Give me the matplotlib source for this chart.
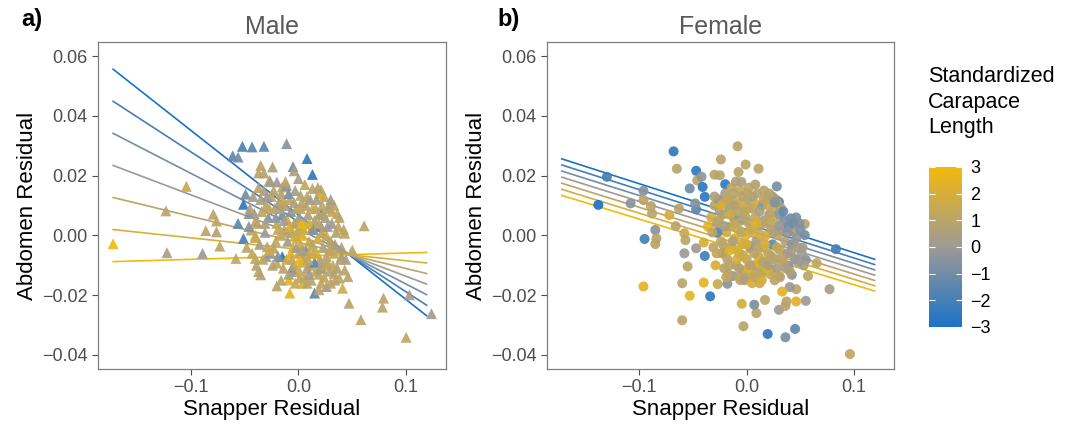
import numpy as np
import matplotlib
matplotlib.use("Agg")
import matplotlib.pyplot as plt
from matplotlib.colors import LinearSegmentedColormap, Normalize
from matplotlib.cm import ScalarMappable

plt.rcParams['font.family'] = ['Liberation Sans', 'DejaVu Sans']

# points: (snapper residual, abdomen residual, standardized CL)
male_points = [
    (-0.172, -0.0028, 3.0), (-0.104, 0.0164, 1.5), (-0.123, 0.0082, 1.0),
    (-0.122, -0.0058, 0.5), (-0.089, -0.0060, 0.0), (-0.086, 0.0016, 1.0),
    (-0.079, 0.0071, 1.0), (-0.076, 0.0048, 1.2), (-0.076, 0.0012, 0.8),
    (-0.073, -0.0036, 1.0), (-0.058, -0.0077, 1.2), (-0.061, 0.0266, -1.5),
    (-0.056, 0.0262, -1.0), (-0.052, 0.0298, -2.0), (-0.043, 0.0296, -1.5),
    (-0.032, 0.0298, -1.5), (-0.011, 0.0307, -0.5), (0.008, 0.0257, -2.5),
    (0.013, 0.0204, -2.5), (-0.005, 0.0230, -1.0), (-0.004, 0.0216, 0.5),
    (-0.035, 0.0234, 1.0), (-0.024, 0.0229, 0.5), (-0.037, 0.0209, 1.0),
    (-0.032, 0.0209, 0.8), (-0.027, 0.0184, 1.0), (-0.020, 0.0179, 0.0),
    (-0.015, 0.0162, 1.0), (-0.011, 0.0167, -0.3), (-0.049, 0.0138, -1.0),
    (-0.051, 0.0104, -2.5), (-0.056, 0.0040, -1.5), (-0.051, -0.0010, -2.0),
    (-0.046, 0.0073, -0.5), (-0.041, 0.0073, 0.0), (-0.040, 0.0046, 1.0),
    (-0.044, 0.0018, 1.2), (-0.040, -0.0007, 1.0), (-0.040, -0.0077, 1.2),
    (-0.037, -0.0121, 1.0), (-0.035, -0.0132, 0.8), (-0.030, -0.0071, 0.0),
    (-0.029, -0.0038, 1.0), (-0.026, -0.0060, -0.2), (-0.023, -0.0043, 1.0),
    (-0.020, -0.0093, 1.2), (-0.020, -0.0169, 1.0), (-0.015, -0.0071, -2.5),
    (-0.009, -0.0149, 2.5), (-0.008, -0.0193, 2.5), (-0.006, -0.0110, -2.0),
    (-0.004, -0.0121, 0.0), (0.001, -0.0143, 1.0), (0.004, -0.0160, 2.2),
    (0.008, -0.0160, 1.0), (0.015, -0.0193, -1.5), (0.019, -0.0182, 1.0),
    (0.026, -0.0171, 0.0), (0.030, -0.0160, 1.0), (0.033, -0.0127, 1.0),
    (0.038, -0.0143, 1.0), (0.041, -0.0177, 1.8), (0.043, -0.0116, 1.0),
    (0.046, -0.0138, 1.0), (0.047, -0.0227, 1.0), (0.050, -0.0049, 1.0),
    (0.061, 0.0032, 1.0), (0.058, -0.0282, 1.0), (0.079, -0.0210, 1.0),
    (0.078, -0.0240, 1.0), (0.100, -0.0341, 1.2), (0.103, -0.0199, 0.3),
    (0.1235, -0.0262, 0.2), (0.040, -0.0071, 0.0), (0.043, 0.0007, 1.0),
    (0.036, 0.0073, 1.0), (0.033, 0.0101, 1.0), (0.029, 0.0107, 1.0),
    (0.021, 0.0153, 1.0), (0.019, 0.0140, 2.0), (0.013, 0.0157, 1.0),
    (0.002, 0.0134, 1.0), (0.021, 0.0073, -2.0),
    # dense centre
    (-0.035, 0.012, 0.5), (-0.030, 0.010, 1.0), (-0.028, 0.006, -0.5),
    (-0.025, 0.013, 1.2), (-0.022, 0.009, 0.8), (-0.020, 0.004, 1.5),
    (-0.018, 0.011, 0.0), (-0.016, 0.014, 0.8), (-0.015, 0.007, -1.0),
    (-0.013, 0.002, 1.0), (-0.012, 0.010, 0.5), (-0.010, 0.005, 1.8),
    (-0.010, -0.002, 0.2), (-0.008, 0.012, 1.0), (-0.007, 0.008, -0.5),
    (-0.006, 0.001, 1.3), (-0.005, -0.004, 2.0), (-0.004, 0.004, 0.7),
    (-0.003, 0.015, 0.3), (-0.002, 0.009, 1.1), (-0.001, -0.001, 2.2),
    (0.000, 0.002, 0.9), (0.000, -0.006, 1.0), (0.001, 0.006, -0.3),
    (0.002, -0.003, 1.6), (0.003, 0.011, 0.8), (0.004, 0.000, 2.4),
    (0.005, -0.008, 0.6), (0.006, 0.004, 1.2), (0.007, -0.005, -0.8),
    (0.008, 0.013, 1.0), (0.009, 0.007, 0.4), (0.010, -0.002, 1.4),
    (0.011, -0.010, 0.9), (0.012, 0.002, 0.0), (0.013, 0.009, 1.7),
    (0.014, -0.006, 1.1), (0.015, 0.005, 0.6), (0.016, -0.012, 1.3),
    (0.017, 0.012, 0.2), (0.018, -0.001, 1.9), (0.019, 0.007, 0.8),
    (0.020, -0.008, 0.5), (0.021, 0.003, -1.2), (0.022, 0.010, 1.0),
    (0.023, -0.004, 0.7), (0.024, -0.014, 1.2), (0.025, 0.006, 0.3),
    (0.026, 0.000, 1.5), (0.027, -0.009, 0.9), (0.028, 0.009, 0.6),
    (0.030, -0.002, 1.1), (0.031, 0.004, 0.0), (0.033, -0.006, 1.4),
    (0.035, 0.001, 0.8), (0.036, -0.011, 0.5), (0.038, 0.006, 1.0),
    (0.040, -0.004, 0.7), (0.042, 0.002, 1.2), (0.044, -0.008, 0.4),
    (-0.038, 0.004, 1.0), (-0.036, -0.003, 0.4), (-0.033, -0.008, 1.2),
    (-0.031, 0.001, 0.0), (-0.027, -0.005, 1.6), (-0.024, -0.010, 0.8),
    (-0.021, -0.002, 1.1), (-0.019, -0.007, -0.6), (-0.017, 0.000, 1.4),
    (-0.014, -0.011, 0.9), (-0.011, -0.008, 1.7), (-0.009, -0.013, 0.5),
    (-0.007, -0.006, 2.5), (-0.004, -0.010, 1.0), (-0.002, -0.004, 0.3),
    (0.001, -0.012, 1.5), (0.003, -0.009, 2.0), (0.006, -0.014, 1.1),
    (0.008, -0.011, 0.6), (0.010, -0.006, 1.8), (0.012, -0.015, 1.0),
    (0.015, -0.009, -1.5), (0.019, -0.013, 1.2), (0.022, -0.011, 0.4),
    (0.026, -0.007, 1.0), (0.029, -0.012, 0.8), (0.032, -0.010, 1.3),
    (-0.045, 0.009, 0.8), (-0.042, 0.013, 0.3), (-0.040, 0.000, 1.5),
    (-0.048, -0.004, 1.0), (-0.032, 0.015, 0.6), (-0.026, 0.018, 0.2),
    (-0.012, 0.018, 1.0), (0.000, 0.019, 0.5), (0.006, 0.017, 1.2),
    (0.018, 0.016, 0.8), (0.024, 0.013, 1.4), (0.030, 0.012, 0.3),
    (-0.034, 0.008, 1.1), (-0.031, 0.004, 0.6), (-0.029, 0.013, 0.0),
    (-0.027, 0.009, 1.4), (-0.023, 0.015, 0.9), (-0.021, 0.006, -0.4),
    (-0.019, 0.002, 1.2), (-0.017, 0.009, 0.7), (-0.014, 0.012, 1.5),
    (-0.013, 0.005, 0.3), (-0.011, 0.001, 1.0), (-0.009, 0.014, -0.8),
    (-0.008, 0.003, 2.0), (-0.006, -0.008, 1.2), (-0.004, 0.011, 0.6),
    (-0.003, 0.000, 1.6), (-0.001, 0.005, 1.0), (0.001, -0.008, 2.6),
    (0.002, 0.009, 1.3), (0.004, -0.005, 0.5), (0.005, 0.002, 1.8),
    (0.007, 0.010, 0.8), (0.009, -0.008, 1.1), (0.010, 0.004, 2.2),
    (0.011, 0.012, 0.4), (0.013, -0.003, 1.0), (0.014, 0.002, -0.6),
    (0.016, 0.009, 1.2), (0.017, -0.006, 2.0), (0.019, 0.004, 1.0),
    (0.020, -0.011, 0.3), (0.022, 0.001, 1.4), (0.023, 0.007, 0.9),
    (0.025, -0.010, 1.2), (0.027, 0.003, 0.0), (0.029, -0.005, 1.0),
    (0.031, 0.008, 1.2), (0.034, -0.003, 0.5), (0.037, 0.003, 1.0),
    (0.039, -0.008, 0.8), (-0.043, -0.006, 1.3), (-0.039, -0.010, 0.9),
    (-0.046, 0.003, -0.5), (-0.037, 0.016, 1.0), (-0.016, -0.015, 1.0),
    (-0.003, -0.016, 1.4), (0.010, -0.013, 0.2), (0.021, -0.016, 1.1),
    (0.034, -0.015, 1.0), (0.003, 0.004, 2.7),
]

female_points = [
    (-0.138, 0.0102, -3.0), (-0.130, 0.0196, -2.0), (-0.108, 0.0107, -0.5),
    (-0.096, 0.0149, -0.5), (-0.096, 0.0118, 1.0), (-0.089, 0.0098, 1.0),
    (-0.088, 0.0073, 1.0), (-0.085, 0.0018, -0.5), (-0.095, -0.0012, -2.0),
    (-0.084, -0.0010, 1.0), (-0.085, -0.0029, 1.0), (-0.096, -0.0171, 2.5),
    (-0.068, 0.0281, -2.5), (-0.065, 0.0223, 1.0), (-0.072, 0.0068, 2.0),
    (-0.066, 0.0031, 1.0), (-0.063, 0.0090, 1.0), (-0.058, 0.0007, 1.5),
    (-0.057, -0.0016, 1.0), (-0.058, -0.0060, 0.0), (-0.055, -0.0104, 1.0),
    (-0.060, -0.0160, 1.0), (-0.053, -0.0202, 2.5), (-0.060, -0.0284, 1.0),
    (-0.053, 0.0157, -1.0), (-0.047, 0.0216, -2.5), (-0.046, 0.0184, 1.0),
    (-0.042, 0.0196, -0.3), (-0.041, 0.0162, -2.5), (-0.039, 0.0129, -2.5),
    (-0.047, 0.0087, -1.5), (-0.048, 0.0107, -0.5), (-0.047, -0.0043, 0.0),
    (-0.039, -0.0069, -2.0), (-0.040, -0.0158, 2.5), (-0.034, -0.0204, -2.5),
    (-0.036, 0.0029, 2.5), (-0.040, -0.0024, 2.0), (-0.027, -0.0163, 1.5),
    (-0.023, -0.0060, 2.5), (-0.021, -0.0110, 1.0), (-0.018, -0.0162, -0.5),
    (-0.022, -0.0057, -2.5), (-0.020, 0.0171, -2.5), (-0.025, 0.0201, 1.0),
    (-0.024, 0.0254, 1.0), (-0.030, 0.0203, 1.0), (-0.0085, 0.0298, 1.0),
    (-0.001, 0.0237, 1.0), (-0.0076, 0.0212, 1.0), (-0.005, 0.0179, 0.5),
    (0.011, 0.0223, 1.0), (0.028, 0.0164, -0.8), (0.027, 0.0120, -0.5),
    (0.030, 0.0112, -1.5), (0.041, 0.0057, -1.0), (0.046, 0.0060, -0.8),
    (0.054, 0.0038, 1.0), (0.054, 0.0001, -1.0), (0.083, -0.0046, -2.0),
    (0.065, -0.0093, 1.2), (0.077, -0.0180, 0.3), (0.055, -0.0082, -0.5),
    (0.057, -0.0136, 1.0), (0.055, -0.0219, 0.0), (0.046, -0.0221, 2.3),
    (0.046, -0.0180, 1.0), (0.040, -0.0173, 0.0), (0.037, -0.0221, 1.0),
    (0.033, -0.0188, 2.3), (0.030, -0.0249, 0.0), (0.036, -0.0236, 1.0),
    (0.017, -0.0216, 1.0), (0.009, -0.0260, 1.0), (0.007, -0.0232, -0.8),
    (-0.0046, -0.0229, 2.0), (-0.003, -0.0304, 1.0), (0.0195, -0.0330, -2.5),
    (0.036, -0.0341, -0.8), (0.045, -0.0313, -1.5), (0.096, -0.0397, 1.2),
    (0.039, -0.0102, -0.5), (0.042, -0.0132, -0.3), (0.030, -0.0136, 2.2),
    (0.023, -0.0116, 1.0), (-0.013, -0.0136, -0.3), (-0.007, -0.0138, 1.0),
    (0.0006, -0.0138, 0.0), (0.008, -0.0127, 1.0), (0.014, -0.0127, 1.2),
    # dense centre
    (-0.030, 0.010, 1.0), (-0.028, 0.004, 0.8), (-0.026, 0.012, -0.5),
    (-0.024, -0.002, 1.5), (-0.022, 0.007, 1.2), (-0.020, 0.014, 0.5),
    (-0.019, 0.001, 2.0), (-0.018, -0.008, 1.0), (-0.016, 0.009, 0.0),
    (-0.015, 0.003, 1.4), (-0.014, -0.004, 0.8), (-0.013, 0.012, 1.1),
    (-0.012, 0.006, -1.0), (-0.011, -0.001, 2.2), (-0.010, -0.010, 1.0),
    (-0.009, 0.010, 0.6), (-0.008, 0.002, 1.6), (-0.007, -0.006, 0.9),
    (-0.006, 0.015, 1.2), (-0.005, 0.005, 0.3), (-0.004, -0.003, 1.8),
    (-0.003, -0.012, 1.0), (-0.002, 0.008, 0.7), (-0.001, 0.000, 2.4),
    (0.000, -0.008, 1.3), (0.001, 0.012, 0.4), (0.002, 0.004, 1.1),
    (0.003, -0.004, -0.5), (0.004, -0.014, 1.5), (0.005, 0.009, 0.9),
    (0.006, 0.001, 1.9), (0.007, -0.010, 0.6), (0.008, 0.006, 1.2),
    (0.009, -0.002, 0.2), (0.010, 0.014, 1.0), (0.011, -0.007, 1.6),
    (0.012, 0.003, 0.8), (0.013, -0.012, 1.1), (0.014, 0.010, -0.8),
    (0.015, -0.004, 1.4), (0.016, 0.005, 0.5), (0.017, -0.009, 1.0),
    (0.018, 0.000, 2.0), (0.019, 0.012, 0.7), (0.020, -0.006, 1.2),
    (0.021, 0.007, 0.0), (0.022, -0.013, 1.5), (0.023, 0.002, 0.9),
    (0.024, -0.003, -1.2), (0.025, 0.009, 1.1), (0.026, -0.008, 0.6),
    (0.027, 0.004, 1.3), (0.028, -0.011, 0.4), (0.029, 0.000, 1.0),
    (0.030, 0.007, -0.5), (0.031, -0.005, 1.2), (0.033, 0.002, 0.3),
    (0.034, -0.009, 1.0), (0.035, 0.005, -0.8), (0.036, -0.002, 0.8),
    (0.038, -0.006, 0.0), (0.039, 0.003, -1.0), (0.040, -0.012, 0.7),
    (0.042, -0.003, -0.5), (0.044, 0.001, 0.2), (0.045, -0.008, -0.3),
    (0.047, -0.004, 0.5), (0.049, 0.004, -0.6), (0.051, -0.006, 0.0),
    (0.053, -0.010, 0.4), (-0.033, 0.006, 1.8), (-0.031, -0.004, 1.0),
    (-0.029, -0.010, 2.0), (-0.027, 0.001, -1.5), (-0.025, 0.008, 0.5),
    (-0.023, -0.006, 1.2), (-0.021, 0.011, 1.0), (-0.017, -0.013, 0.8),
    (-0.014, 0.016, 1.2), (-0.010, 0.018, 0.6), (-0.006, -0.015, 1.1),
    (-0.002, -0.015, 0.5), (0.002, 0.016, 1.0), (0.005, -0.016, 2.0),
    (0.008, 0.017, 0.8), (0.012, -0.016, 1.4), (0.016, 0.015, 1.0),
    (0.020, 0.010, 1.5), (0.024, 0.013, 0.3), (0.028, 0.011, 1.0),
    (0.032, 0.009, 0.6), (0.026, -0.015, 1.0), (0.019, -0.011, 2.2),
    (0.011, -0.009, 2.5), (0.001, -0.011, 2.3), (-0.009, -0.008, 2.0),
    (-0.016, -0.005, 2.4), (-0.005, 0.011, 1.7), (0.007, 0.011, 1.5),
    (-0.032, 0.001, 1.1), (-0.030, 0.013, 0.6), (-0.028, -0.006, 1.4),
    (-0.026, 0.005, 0.9), (-0.024, 0.010, 2.0), (-0.022, -0.003, 1.0),
    (-0.020, 0.003, 0.4), (-0.018, 0.012, 1.3), (-0.016, -0.010, 1.0),
    (-0.015, 0.007, 1.8), (-0.013, -0.002, 0.6), (-0.012, 0.014, 1.0),
    (-0.011, 0.004, 1.4), (-0.009, -0.005, 2.1), (-0.008, 0.008, 1.0),
    (-0.007, -0.011, 0.7), (-0.005, 0.001, 1.2), (-0.004, 0.013, 0.9),
    (-0.003, -0.007, 1.6), (-0.001, 0.006, 1.0), (0.000, -0.003, 2.0),
    (0.001, 0.009, 1.2), (0.003, -0.010, 0.8), (0.004, 0.002, 1.5),
    (0.005, 0.013, 0.6), (0.007, -0.006, 1.0), (0.008, -0.014, 1.3),
    (0.009, 0.004, 2.2), (0.010, -0.004, 1.0), (0.012, 0.008, 0.5),
    (0.013, 0.000, 1.7), (0.015, -0.009, 0.9), (0.016, 0.012, 1.1),
    (0.017, -0.003, 2.0), (0.019, 0.004, 1.0), (0.020, -0.010, 0.4),
    (0.022, 0.006, 1.3), (0.023, -0.007, 1.0), (0.025, 0.001, 0.7),
    (0.026, 0.011, -0.6), (0.028, -0.004, 1.2), (0.030, 0.003, 0.0),
    (0.032, -0.008, 1.0), (0.034, 0.008, -1.2), (0.036, -0.011, 0.5),
    (0.038, 0.001, -0.4), (0.041, -0.006, 0.3), (0.043, 0.004, -0.9),
    (0.046, -0.001, -0.2), (0.048, -0.009, 0.0), (0.050, 0.002, -0.7),
    (0.052, -0.004, 0.3), (-0.019, -0.014, 1.2), (0.014, -0.015, 2.0),
    (0.031, -0.014, 1.0), (0.001, 0.014, 1.0), (0.021, 0.014, 0.9),
    (-0.012, 0.010, 0.8),
]

# fitted model: y = (a0 + a1*cl) + (b0 + b1*cl) * x
male_coef = {"a0": -0.00006, "a1": -0.0023, "b0": -0.1364, "b1": 0.049}
female_coef = {"a0": 0.0001, "a1": -0.00188, "b0": -0.1127, "b1": 0.00092}
cl_levels = [-3, -2, -1, 0, 1, 2, 3]
pred_range = (-0.172, 0.119)

cmap = LinearSegmentedColormap.from_list(
    "cl", ["#1A72C6", "#9E9A96", "#F2B90C"])
norm = Normalize(vmin=-3, vmax=3)

fig = plt.figure(figsize=(10.68, 4.25), dpi=100)
ax_m = fig.add_axes([0.0918, 0.1318, 0.3258, 0.7694])
ax_f = fig.add_axes([0.5119, 0.1318, 0.3252, 0.7694])
cax = fig.add_axes([0.8698, 0.2306, 0.0309, 0.3765])

panels = [
    (ax_m, male_points, male_coef, "^", 62, "Male"),
    (ax_f, female_points, female_coef, "o", 52, "Female"),
]

px = np.array(pred_range)
for ax, pts, coef, marker, size, title in panels:
    x, y, cl = np.array(pts).T
    # model lines sit under the points, as in the original
    for lev in cl_levels:
        a = coef["a0"] + coef["a1"] * lev
        b = coef["b0"] + coef["b1"] * lev
        ax.plot(px, a + b * px, color=cmap(norm(lev)), lw=1.2, zorder=1.5)
    ax.scatter(x, y, c=cl, cmap=cmap, norm=norm, marker=marker, s=size,
               edgecolors="none", alpha=0.92, zorder=2)

    ax.set_xlim(-0.186, 0.137)
    ax.set_ylim(-0.0447, 0.0647)
    ax.set_xticks([-0.1, 0.0, 0.1])
    ax.set_xticklabels(["\u22120.1", "0.0", "0.1"])
    ax.set_yticks([-0.04, -0.02, 0.0, 0.02, 0.04, 0.06])
    ax.set_yticklabels(["\u22120.04", "\u22120.02", "0.00", "0.02", "0.04", "0.06"])
    ax.tick_params(labelsize=13, colors="#4D4D4D", length=4, width=0.8)
    for sp in ax.spines.values():
        sp.set_color("#7F7F7F")
        sp.set_linewidth(0.9)
    ax.set_xlabel("Snapper Residual", fontsize=16, labelpad=2)
    ax.set_ylabel("Abdomen Residual", fontsize=16, labelpad=3)
    ax.set_title(title, fontsize=18, color="#595959", pad=6)

fig.text(0.020, 0.953, "a)", fontsize=17, fontweight="bold", va="center")
fig.text(0.466, 0.953, "b)", fontsize=17, fontweight="bold", va="center")

sm = ScalarMappable(norm=norm, cmap=cmap)
cb = fig.colorbar(sm, cax=cax, ticks=cl_levels)
cb.outline.set_visible(False)
cb.ax.set_yticklabels(["\u22123", "\u22122", "\u22121", "0", "1", "2", "3"])
cax.yaxis.set_ticks_position("both")
cax.tick_params(direction="in", color="white", length=4, width=0.8,
                labelsize=13, labelcolor="black", pad=6)
fig.text(0.869, 0.845, "Standardized\nCarapace\nLength", fontsize=15.5,
         va="top", ha="left", linespacing=1.3)

fig.savefig("out.png", dpi=100)
